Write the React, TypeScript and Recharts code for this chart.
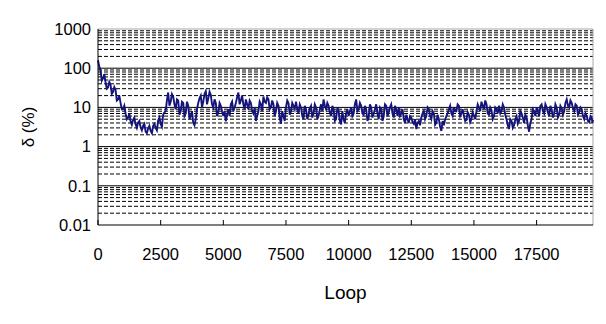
import React from "react";
import { CartesianGrid, Line, LineChart, ReferenceLine, XAxis, YAxis } from "recharts";

// loop index of the main samples (one per 100 loops, last one at 19750)
const loops: number[] = [
  0, 100, 200, 300, 400, 500, 600, 700, 800, 900,
  1000, 1100, 1200, 1300, 1400, 1500, 1600, 1700, 1800, 1900,
  2000, 2100, 2200, 2300, 2400, 2500, 2600, 2700, 2800, 2900,
  3000, 3100, 3200, 3300, 3400, 3500, 3600, 3700, 3800, 3900,
  4000, 4100, 4200, 4300, 4400, 4500, 4600, 4700, 4800, 4900,
  5000, 5100, 5200, 5300, 5400, 5500, 5600, 5700, 5800, 5900,
  6000, 6100, 6200, 6300, 6400, 6500, 6600, 6700, 6800, 6900,
  7000, 7100, 7200, 7300, 7400, 7500, 7600, 7700, 7800, 7900,
  8000, 8100, 8200, 8300, 8400, 8500, 8600, 8700, 8800, 8900,
  9000, 9100, 9200, 9300, 9400, 9500, 9600, 9700, 9800, 9900,
  10000, 10100, 10200, 10300, 10400, 10500, 10600, 10700, 10800, 10900,
  11000, 11100, 11200, 11300, 11400, 11500, 11600, 11700, 11800, 11900,
  12000, 12100, 12200, 12300, 12400, 12500, 12600, 12700, 12800, 12900,
  13000, 13100, 13200, 13300, 13400, 13500, 13600, 13700, 13800, 13900,
  14000, 14100, 14200, 14300, 14400, 14500, 14600, 14700, 14800, 14900,
  15000, 15100, 15200, 15300, 15400, 15500, 15600, 15700, 15800, 15900,
  16000, 16100, 16200, 16300, 16400, 16500, 16600, 16700, 16800, 16900,
  17000, 17100, 17200, 17300, 17400, 17500, 17600, 17700, 17800, 17900,
  18000, 18100, 18200, 18300, 18400, 18500, 18600, 18700, 18800, 18900,
  19000, 19100, 19200, 19300, 19400, 19500, 19600, 19700, 19750,
];

// delta (%) at the main samples
const delta: number[] = [
  160, 90, 55, 45, 32, 38, 25, 28, 16, 13,
  9, 7, 5.5, 4.4, 4.8, 3.7, 4.1, 3.1, 3.4, 2.4,
  2.9, 2.5, 3.4, 3, 4.6, 3.8, 6.5, 8, 24, 14,
  19, 9, 15, 8, 13, 7, 11, 6, 4, 5,
  13, 20, 14, 26, 17, 21, 10, 13, 7.5, 11,
  6, 4.4, 9, 12, 8, 13, 24, 15, 12, 16,
  9, 13, 7, 4.5, 8, 12, 19, 13, 16, 10,
  12, 8, 11, 3.8, 6, 10, 13, 8, 11, 14,
  7, 10, 5, 9, 6.5, 11, 7, 10, 6, 12,
  16, 9, 11, 6, 9, 5, 8, 3.7, 5, 7,
  6, 10, 7, 16, 9, 11, 6.5, 9, 5.5, 10,
  7, 12, 5, 9, 6, 11, 7.5, 12, 5.5, 9,
  10, 7, 5, 6.5, 4, 5.5, 3.8, 2.8, 4.5, 5.5,
  8, 6, 9, 5, 7, 4, 5, 2.5, 3.5, 6,
  9, 7, 10, 8, 11, 7, 6, 4.8, 6.5, 5,
  6.2, 8, 10, 14, 9, 12, 6.5, 8.5, 6, 9,
  11, 8, 10, 5, 2.8, 4.5, 3.5, 6, 4.5, 7,
  4, 5.5, 2.4, 5, 8, 10, 6, 12, 7, 10,
  6, 9, 7, 10, 6.5, 9.5, 8, 16, 10, 13,
  8, 11, 7.5, 9, 5, 6, 4.2, 5.5, 4.8,
];

// delta (%) at the in-between samples (halfway between two main samples): the jitter of the trace
const deltaMid: number[] = [
  110, 48, 70, 30, 45, 22, 33, 15, 20, 9,
  11, 5, 7, 3.6, 5.5, 3, 4.5, 2.6, 3.8, 2.2,
  3.4, 2.2, 3.8, 2.6, 5.5, 3.2, 7.5, 15, 11, 22,
  12, 16, 6.5, 14, 6, 14, 5, 8, 3.5, 9,
  17, 10, 22, 12, 25, 12, 16, 6, 13, 8,
  8, 6.5, 6, 14, 10, 18, 12, 20, 9, 12,
  15, 8, 10, 6, 14, 8, 14, 18, 9, 15,
  6, 13, 5.5, 8, 4.5, 15, 6.5, 13, 9, 9,
  12, 6, 11, 5, 9.5, 5.5, 12, 5, 9, 8,
  11, 13, 7.5, 11, 4.5, 10, 4.5, 8, 4, 9,
  8, 6, 12, 8, 13, 7, 11, 4.5, 12, 5.5,
  9, 7, 10, 4.5, 12, 6, 10, 7, 11, 6,
  6, 9, 4, 5, 6, 4.2, 5, 4, 3.5, 7,
  5, 10, 6, 8, 3.6, 6.5, 3.2, 4.5, 5, 7,
  11, 6, 8, 12, 6, 9, 4.5, 7.5, 4.2, 7.5,
  5, 12, 8, 11, 15, 7, 10, 5, 10, 7,
  7, 12, 6.5, 3.5, 5, 3, 5, 3.8, 8, 5.5,
  6.5, 3.5, 4, 9, 6, 8, 11, 8, 12, 7.5,
  11, 5.5, 12, 5.5, 11, 6.5, 13, 11, 15, 9.5,
  12, 6.5, 10, 6, 7, 4.5, 6, 4,
];

const xTicks = [0, 2500, 5000, 7500, 10000, 12500, 15000, 17500];
const yTicks = [0.01, 0.1, 1, 10, 100, 1000];
const decades = [0.01, 0.1, 1, 10, 100];
const minorSteps = [2, 3, 4, 5, 6, 7, 8, 9];

const mainPoints = loops.map((loop, i) => ({ loop, delta: delta[i] }));
const midPoints = deltaMid.map((d, i) => ({ loop: (loops[i] + loops[i + 1]) / 2, delta: d }));
const data = [...mainPoints, ...midPoints].sort((a, b) => a.loop - b.loop);
const minorLines = decades.flatMap((d) => minorSteps.map((m) => +(d * m).toPrecision(3)));

const font = "'Liberation Sans', Arial, sans-serif";

export default function App() {
  return (
    <div style={{ width: 590, height: 300, fontFamily: font }}>
      <LineChart width={590} height={300} data={data} margin={{ top: 21, right: 5, bottom: 0, left: 0 }}>
        <CartesianGrid horizontal={false} vertical={false} />
        {minorLines.map((v) => (
          <ReferenceLine key={"m" + v} y={v} stroke="#000" strokeWidth={1} strokeDasharray="4 2" />
        ))}
        {[0.1, 1, 10, 100].map((v) => (
          <ReferenceLine key={"d" + v} y={v} stroke="#000" strokeWidth={1} />
        ))}
        <ReferenceLine y={1000} stroke="#a8a8a8" strokeWidth={1} />
        <ReferenceLine x={19750} stroke="#a8a8a8" strokeWidth={1} />
        <XAxis
          dataKey="loop"
          type="number"
          domain={[0, 19750]}
          ticks={xTicks}
          interval={0}
          height={83}
          stroke="#000"
          tickSize={-5}
          tickMargin={28}
          tick={{ fill: "#000", fontSize: 16.5, fontFamily: font }}
          label={{ value: "Loop", position: "insideBottom", offset: 9, style: { fill: "#000", fontSize: 19, fontFamily: font } }}
        />
        <YAxis
          scale="log"
          domain={[0.01, 1000]}
          ticks={yTicks}
          interval={0}
          allowDataOverflow
          width={90}
          stroke="#000"
          tickLine={false}
          tickSize={0}
          tickMargin={7}
          tick={{ fill: "#000", fontSize: 16.5, fontFamily: font }}
          label={{
            value: "δ (%)",
            angle: -90,
            position: "insideLeft",
            offset: 20,
            style: { textAnchor: "middle", fill: "#000", fontSize: 17, fontFamily: font },
          }}
        />
        <Line type="linear" dataKey="delta" stroke="#14147a" strokeWidth={1.9} dot={false} isAnimationActive={false} />
      </LineChart>
    </div>
  );
}
